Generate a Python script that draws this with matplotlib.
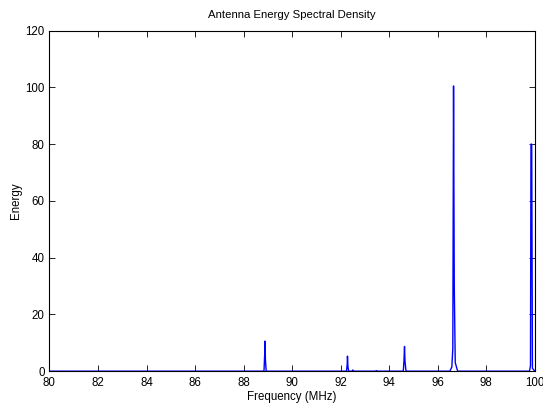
import matplotlib
matplotlib.use('Agg')
import matplotlib.pyplot as plt

# spectrum (MHz, energy)
freq = [80.0, 88.84, 88.87, 88.88, 88.90, 88.93,
        92.24, 92.27, 92.28, 92.30, 92.33, 92.48, 92.50, 92.53,
        93.45, 93.47, 93.50,
        94.58, 94.61, 94.63, 94.65, 94.69,
        96.50, 96.58, 96.62, 96.65, 96.68, 96.72, 96.82,
        99.78, 99.82, 99.84, 99.87, 99.90, 100.0]
energy = [0.0, 0.0, 6.0, 10.6, 4.0, 0.0,
          0.0, 2.5, 5.3, 1.5, 0.0, 0.0, 0.4, 0.0,
          0.0, 0.2, 0.0,
          0.0, 4.0, 8.7, 3.5, 0.0,
          0.0, 1.5, 8.0, 100.5, 30.0, 3.0, 0.0,
          0.0, 2.0, 80.0, 80.0, 1.0, 0.0]

x_ticks = [80, 82, 84, 86, 88, 90, 92, 94, 96, 98, 100]
y_ticks = [0, 20, 40, 60, 80, 100, 120]

plt.rcParams['font.family'] = ['Liberation Sans', 'DejaVu Sans']
fig = plt.figure(figsize=(5.43, 4.03), dpi=100)
ax = fig.add_axes([0.091, 0.079, 0.894, 0.845])
ax.plot(freq, energy, color='#0000ff', linewidth=1.0)
ax.set_xlim(80, 100)
ax.set_ylim(0, 120)
ax.set_xticks(x_ticks)
ax.set_yticks(y_ticks)
ax.tick_params(direction='in', top=True, right=True, labelsize=8.3, length=4, width=0.6)
ax.tick_params(axis='x', pad=4)
ax.tick_params(axis='y', pad=3.5)
for s in ax.spines.values():
    s.set_linewidth(0.8)
ax.set_title('Antenna Energy Spectral Density', fontsize=8.2, pad=9)
ax.set_xlabel('Frequency (MHz)', fontsize=8.3, labelpad=2)
ax.set_ylabel('Energy', fontsize=8.3, labelpad=2.5)
fig.savefig('out.png', dpi=100)
